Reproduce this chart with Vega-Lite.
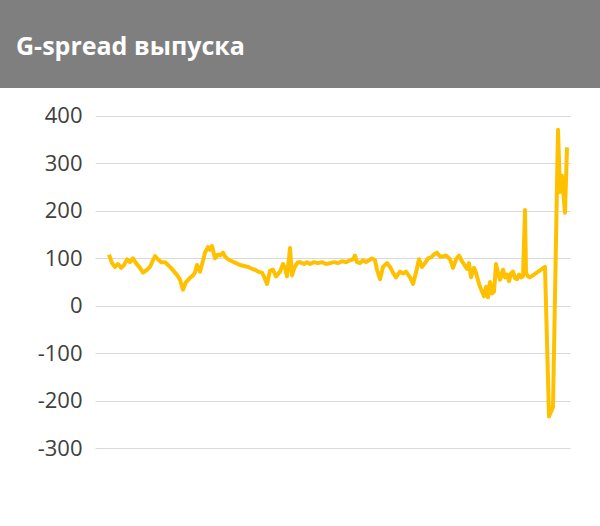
{
  "$schema": "https://vega.github.io/schema/vega-lite/v6.json",
  "description": "G-spread выпуска",
  "background": "white",
  "padding": 0,
  "spacing": 0,
  "config": {"view": {"stroke": null}},
  "vconcat": [
    {
      "width": 600,
      "height": 88,
      "view": {"fill": "#7f7f7f", "stroke": null},
      "data": {"values": [{"label": "G-spread выпуска"}]},
      "mark": {
        "type": "text",
        "align": "left",
        "baseline": "alphabetic",
        "dx": -284,
        "dy": 11,
        "font": "Open Sans",
        "fontSize": 25,
        "fontWeight": "bold",
        "color": "white"
      },
      "encoding": {"text": {"field": "label"}}
    },
    {
      "width": 600,
      "height": 438,
      "data": {
        "values": [
          {"t": 14, "spread": 108}, {"t": 17, "spread": 90}, {"t": 20, "spread": 82}, {"t": 23, "spread": 88},
          {"t": 26, "spread": 80}, {"t": 29, "spread": 86}, {"t": 32, "spread": 98}, {"t": 35, "spread": 92},
          {"t": 38, "spread": 100}, {"t": 41, "spread": 90}, {"t": 45, "spread": 80}, {"t": 48, "spread": 70},
          {"t": 52, "spread": 76}, {"t": 55, "spread": 82}, {"t": 58, "spread": 96}, {"t": 60, "spread": 105},
          {"t": 63, "spread": 98}, {"t": 66, "spread": 92}, {"t": 70, "spread": 92}, {"t": 73, "spread": 86},
          {"t": 76, "spread": 80}, {"t": 80, "spread": 70}, {"t": 83, "spread": 62}, {"t": 85, "spread": 55},
          {"t": 88, "spread": 34}, {"t": 91, "spread": 50}, {"t": 95, "spread": 59}, {"t": 98, "spread": 64},
          {"t": 100, "spread": 70}, {"t": 102, "spread": 86}, {"t": 105, "spread": 72}, {"t": 108, "spread": 95},
          {"t": 110, "spread": 112}, {"t": 113, "spread": 124}, {"t": 115, "spread": 118}, {"t": 117, "spread": 126},
          {"t": 120, "spread": 100}, {"t": 123, "spread": 108}, {"t": 125, "spread": 106}, {"t": 128, "spread": 112},
          {"t": 130, "spread": 104}, {"t": 133, "spread": 98}, {"t": 137, "spread": 94}, {"t": 141, "spread": 90},
          {"t": 145, "spread": 86}, {"t": 149, "spread": 84}, {"t": 153, "spread": 82}, {"t": 157, "spread": 78},
          {"t": 160, "spread": 76}, {"t": 163, "spread": 72}, {"t": 167, "spread": 70}, {"t": 169, "spread": 62},
          {"t": 172, "spread": 46}, {"t": 175, "spread": 74}, {"t": 178, "spread": 76}, {"t": 181, "spread": 62},
          {"t": 185, "spread": 72}, {"t": 188, "spread": 88}, {"t": 190, "spread": 80}, {"t": 192, "spread": 62},
          {"t": 194, "spread": 100}, {"t": 195, "spread": 122}, {"t": 197, "spread": 64}, {"t": 199, "spread": 78},
          {"t": 201, "spread": 86}, {"t": 203, "spread": 92}, {"t": 205, "spread": 92}, {"t": 209, "spread": 88},
          {"t": 212, "spread": 92}, {"t": 215, "spread": 88}, {"t": 219, "spread": 92}, {"t": 223, "spread": 90},
          {"t": 227, "spread": 92}, {"t": 231, "spread": 88}, {"t": 235, "spread": 90}, {"t": 239, "spread": 92},
          {"t": 243, "spread": 90}, {"t": 247, "spread": 94}, {"t": 251, "spread": 92}, {"t": 255, "spread": 96},
          {"t": 258, "spread": 98}, {"t": 260, "spread": 106}, {"t": 262, "spread": 92}, {"t": 265, "spread": 90},
          {"t": 268, "spread": 96}, {"t": 271, "spread": 92}, {"t": 274, "spread": 96}, {"t": 277, "spread": 100},
          {"t": 280, "spread": 96}, {"t": 282, "spread": 76}, {"t": 285, "spread": 56}, {"t": 288, "spread": 82},
          {"t": 292, "spread": 90}, {"t": 295, "spread": 82}, {"t": 298, "spread": 70}, {"t": 301, "spread": 60},
          {"t": 305, "spread": 72}, {"t": 308, "spread": 68}, {"t": 311, "spread": 72}, {"t": 315, "spread": 60},
          {"t": 318, "spread": 46}, {"t": 321, "spread": 70}, {"t": 324, "spread": 98}, {"t": 327, "spread": 82},
          {"t": 330, "spread": 90}, {"t": 333, "spread": 100}, {"t": 336, "spread": 102}, {"t": 339, "spread": 108},
          {"t": 342, "spread": 112}, {"t": 345, "spread": 104}, {"t": 348, "spread": 104}, {"t": 351, "spread": 106},
          {"t": 355, "spread": 98}, {"t": 358, "spread": 80}, {"t": 361, "spread": 98}, {"t": 364, "spread": 106},
          {"t": 367, "spread": 94}, {"t": 370, "spread": 84}, {"t": 372, "spread": 78}, {"t": 374, "spread": 90},
          {"t": 376, "spread": 60}, {"t": 379, "spread": 80}, {"t": 381, "spread": 70}, {"t": 383, "spread": 54},
          {"t": 385, "spread": 40}, {"t": 387, "spread": 30}, {"t": 389, "spread": 20}, {"t": 391, "spread": 40},
          {"t": 393, "spread": 18}, {"t": 395, "spread": 50}, {"t": 397, "spread": 26}, {"t": 399, "spread": 30},
          {"t": 401, "spread": 88}, {"t": 403, "spread": 70}, {"t": 405, "spread": 55}, {"t": 408, "spread": 76},
          {"t": 410, "spread": 60}, {"t": 412, "spread": 66}, {"t": 414, "spread": 52}, {"t": 416, "spread": 68},
          {"t": 418, "spread": 72}, {"t": 420, "spread": 58}, {"t": 422, "spread": 56}, {"t": 424, "spread": 66},
          {"t": 426, "spread": 60}, {"t": 428, "spread": 62}, {"t": 430, "spread": 202}, {"t": 431, "spread": 70},
          {"t": 433, "spread": 62}, {"t": 435, "spread": 60}, {"t": 450, "spread": 82}, {"t": 454, "spread": -233},
          {"t": 458, "spread": -213}, {"t": 463, "spread": 371}, {"t": 465, "spread": 240}, {"t": 467, "spread": 274},
          {"t": 470, "spread": 196}, {"t": 472, "spread": 334}
        ]
      },
      "mark": {"type": "line", "color": "#ffc000", "strokeWidth": 4, "strokeJoin": "round"},
      "encoding": {
        "x": {
          "field": "t",
          "type": "quantitative",
          "scale": {"domain": [0, 475], "range": [95, 570], "nice": false, "zero": false},
          "axis": null
        },
        "y": {
          "field": "spread",
          "type": "quantitative",
          "scale": {"domain": [-464, 459], "nice": false, "zero": false},
          "axis": {
            "values": [-300, -200, -100, 0, 100, 200, 300, 400],
            "title": null,
            "offset": -95,
            "domain": false,
            "ticks": false,
            "tickSize": 0,
            "labelPadding": 13,
            "labelFont": "Open Sans",
            "labelFontSize": 22,
            "labelColor": "#404040",
            "labelExpr": "toString(datum.value)",
            "grid": true,
            "gridColor": "#d9d9d9",
            "gridWidth": 1
          }
        }
      }
    }
  ]
}
